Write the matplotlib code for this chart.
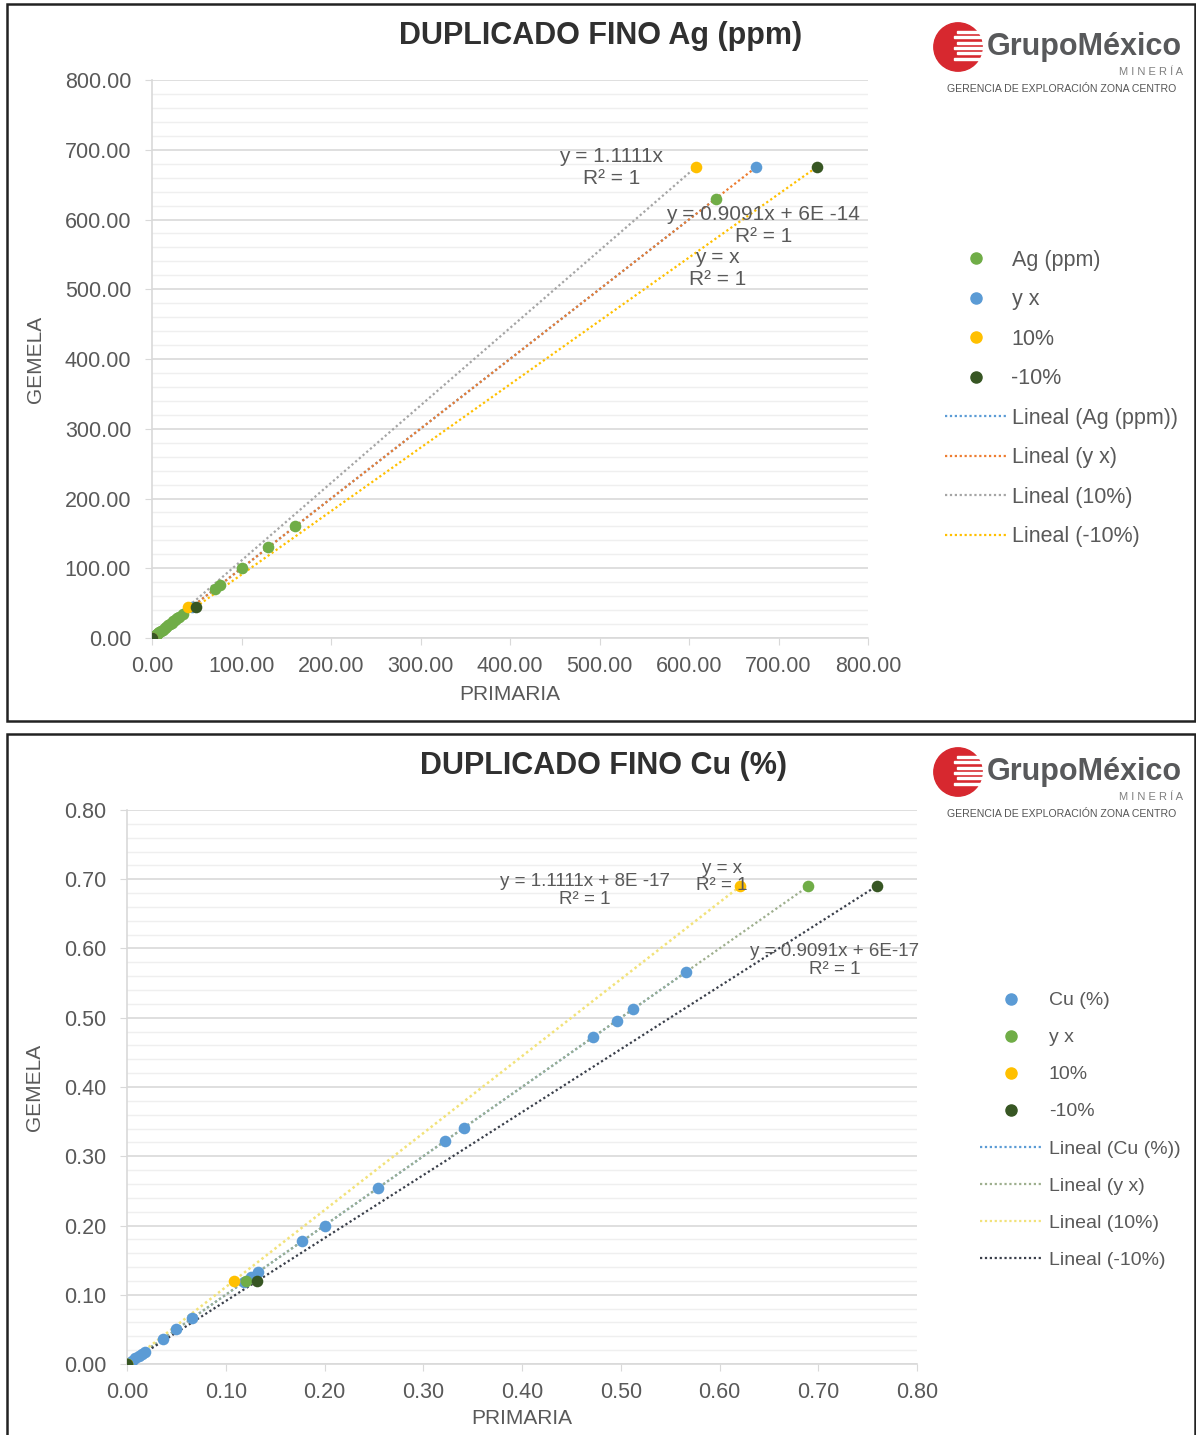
import matplotlib
matplotlib.use("Agg")
import matplotlib.pyplot as plt
from matplotlib.lines import Line2D
from matplotlib.patches import Rectangle, Circle
import numpy as np

plt.rcParams['font.family'] = ['Liberation Sans', 'DejaVu Sans']

W, H = 1196, 1435

# ---------------- data: Ag (ppm) ----------------
ag_x = [0.5, 1, 1.5, 2, 3, 4, 5, 6, 7, 8, 10, 12, 14, 16, 18, 20, 22, 24, 26, 28, 30, 35,
        70, 76, 100, 130, 160, 630]
ag_y = [0.5, 1, 1.5, 2, 3, 4, 5, 6, 7, 8, 10, 12, 14, 16, 18, 20, 22, 24, 26, 28, 30, 35,
        70, 76, 100, 130, 160, 630]
ag_yx_x = [0, 45, 675]
ag_yx_y = [0, 45, 675]
ag_p10_x = [0, 40.5, 607.5]
ag_p10_y = [0, 45, 675]
ag_m10_x = [0, 49.5, 742.5]
ag_m10_y = [0, 45, 675]

# ---------------- data: Cu (%) ----------------
cu_x = [0.002, 0.005, 0.008, 0.012, 0.015, 0.018, 0.036, 0.05, 0.066, 0.118, 0.126, 0.133,
        0.177, 0.2, 0.254, 0.322, 0.341, 0.472, 0.496, 0.512, 0.566]
cu_y = [0.002, 0.005, 0.008, 0.012, 0.015, 0.018, 0.036, 0.05, 0.066, 0.118, 0.126, 0.133,
        0.177, 0.2, 0.254, 0.322, 0.341, 0.472, 0.496, 0.512, 0.566]
cu_yx_x = [0, 0.12, 0.69]
cu_yx_y = [0, 0.12, 0.69]
cu_p10_x = [0, 0.108, 0.621]
cu_p10_y = [0, 0.12, 0.69]
cu_m10_x = [0, 0.132, 0.759]
cu_m10_y = [0, 0.12, 0.69]

ag_labels = ["Ag (ppm)", "y x", "10%", "-10%",
             "Lineal (Ag (ppm))", "Lineal (y x)", "Lineal (10%)", "Lineal (-10%)"]
cu_labels = ["Cu (%)", "y x", "10%", "-10%",
             "Lineal (Cu (%))", "Lineal (y x)", "Lineal (10%)", "Lineal (-10%)"]

GREEN = "#70AD47"
BLUE = "#5B9BD5"
YELLOW = "#FFC000"
DKGREEN = "#375623"
TXT = "#595959"


def px(x0, y0, x1, y1):
    # pixel box (top-left origin) -> figure fraction rect
    return [x0 / W, 1 - y1 / H, (x1 - x0) / W, (y1 - y0) / H]


def trend(ax, xs, ys, color, lw=1.6):
    m, b = np.polyfit(xs, ys, 1)
    xx = np.array([0, max(xs)])
    ax.plot(xx, m * xx + b, linestyle=(0, (1, 1.2)), color=color, lw=lw, zorder=2)


def style_axes(ax, xmax, ymax, major, minor, fmt):
    ax.set_xlim(0, xmax)
    ax.set_ylim(0, ymax)
    ax.set_xticks(np.arange(0, xmax + major / 2, major))
    ax.set_yticks(np.arange(0, ymax + major / 2, major))
    ax.set_yticks(np.arange(0, ymax + minor / 2, minor), minor=True)
    ax.set_xticklabels([fmt.format(v) for v in ax.get_xticks()])
    ax.set_yticklabels([fmt.format(v) for v in ax.get_yticks()])
    ax.grid(True, which='major', axis='y', color='#D9D9D9', lw=1.2, zorder=0)
    ax.grid(True, which='minor', axis='y', color='#EFEFEF', lw=1.0, zorder=0)
    ax.set_axisbelow(True)
    for s in ['top', 'right']:
        ax.spines[s].set_visible(False)
    ax.spines['left'].set_color('#D9D9D9')
    ax.spines['bottom'].set_color('#D9D9D9')
    ax.spines['left'].set_linewidth(1.2)
    ax.spines['bottom'].set_linewidth(1.2)
    ax.tick_params(which='major', length=5, color='#D9D9D9', labelsize=15.5,
                   labelcolor=TXT)
    ax.tick_params(which='minor', length=0)
    ax.tick_params(axis='x', pad=8)
    ax.tick_params(axis='y', pad=10)


def logo(fig, top):
    lax = fig.add_axes(px(930, top - 28, 960 + 26, top + 28))
    lax.set_xlim(-1.1, 1.1)
    lax.set_ylim(-1.1, 1.1)
    lax.set_aspect('equal')
    lax.axis('off')
    lax.add_patch(Circle((0, 0), 0.95, color="#D7282F"))
    for i, yy in enumerate(np.linspace(-0.5, 0.55, 6)):
        lax.add_patch(Rectangle((-0.15 + 0.1 * (i % 2), yy), 1.2, 0.08, color='white'))
    fig.text(987 / W, 1 - top / H, "GrupoMéxico", fontsize=22, color="#58595B",
             fontweight='bold', va='center', ha='left')
    fig.text(1183 / W, 1 - (top + 25) / H, "M I N E R Í A", fontsize=8,
             color="#7F7F7F", va='center', ha='right')
    fig.text(1176 / W, 1 - (top + 42) / H, "GERENCIA DE EXPLORACIÓN ZONA CENTRO",
             fontsize=7.6, color="#555555", va='center', ha='right')


fig = plt.figure(figsize=(W / 100, H / 100), dpi=100)

# panel frames
for (y0, y1) in [(4, 721), (734, 1436)]:
    fig.patches.append(Rectangle((7 / W, 1 - y1 / H), (1195 - 7) / W, (y1 - y0) / H,
                                 transform=fig.transFigure, fill=False,
                                 edgecolor='#222222', lw=1.8))

# ---------------- top chart ----------------
ax1 = fig.add_axes(px(152, 80, 868, 638))
style_axes(ax1, 800, 800, 100, 20, "{:.2f}")
trend(ax1, ag_x, ag_y, BLUE)
trend(ax1, ag_yx_x, ag_yx_y, "#ED7D31")
trend(ax1, ag_p10_x, ag_p10_y, "#A5A5A5")
trend(ax1, ag_m10_x, ag_m10_y, YELLOW)
ax1.scatter(ag_x, ag_y, s=70, color=GREEN, zorder=3, linewidths=0)
ax1.scatter(ag_yx_x, ag_yx_y, s=70, color=BLUE, zorder=3, linewidths=0)
ax1.scatter(ag_p10_x, ag_p10_y, s=70, color=YELLOW, zorder=3, linewidths=0)
ax1.scatter(ag_m10_x, ag_m10_y, s=70, color=DKGREEN, zorder=3, linewidths=0)
ax1.text(513, 674, "y = 1.1111x\nR² = 1", ha='center', va='center', fontsize=15,
         color=TXT, multialignment='center', linespacing=1.2)
ax1.text(683, 592, "y = 0.9091x + 6E -14\nR² = 1", ha='center', va='center',
         fontsize=15, color=TXT, multialignment='center', linespacing=1.2)
ax1.text(632, 530, "y = x\nR² = 1", ha='center', va='center', fontsize=15,
         color=TXT, multialignment='center', linespacing=1.2)
ax1.set_xlabel("PRIMARIA", fontsize=15, color=TXT, labelpad=6)
ax1.set_ylabel("GEMELA", fontsize=15, color=TXT, labelpad=14)
fig.text(601 / W, 1 - 36 / H, "DUPLICADO FINO Ag (ppm)", fontsize=22,
         fontweight='bold', color="#303030", ha='center', va='center')

h1 = [Line2D([], [], marker='o', ls='none', color=c, markersize=8)
      for c in [GREEN, BLUE, YELLOW, DKGREEN]]
h1 += [Line2D([], [], ls=(0, (1, 1.2)), color=c, lw=1.6)
       for c in [BLUE, "#ED7D31", "#A5A5A5", YELLOW]]
fig.legend(h1, ag_labels, loc='upper left', bbox_to_anchor=(934 / W, 1 - 239 / H),
           frameon=False, fontsize=15.5, labelspacing=0.86, handlelength=2.9,
           handletextpad=0.2, borderpad=0, labelcolor=TXT)
logo(fig, 47)

# ---------------- bottom chart ----------------
ax2 = fig.add_axes(px(127, 810, 917, 1364))
style_axes(ax2, 0.8, 0.8, 0.1, 0.02, "{:.2f}")
LYX = "#9EAF8E"
trend(ax2, cu_x, cu_y, BLUE)
trend(ax2, cu_yx_x, cu_yx_y, LYX)
trend(ax2, cu_p10_x, cu_p10_y, "#F2E27A", lw=1.8)
trend(ax2, cu_m10_x, cu_m10_y, "#3A3F4A")
ax2.scatter(cu_x, cu_y, s=70, color=BLUE, zorder=3, linewidths=0)
ax2.scatter(cu_yx_x, cu_yx_y, s=70, color=GREEN, zorder=3, linewidths=0)
ax2.scatter(cu_p10_x, cu_p10_y, s=70, color=YELLOW, zorder=3, linewidths=0)
ax2.scatter(cu_m10_x, cu_m10_y, s=70, color=DKGREEN, zorder=3, linewidths=0)
ax2.text(0.464, 0.684, "y = 1.1111x + 8E -17\nR² = 1", ha='center', va='center',
         fontsize=13.5, color=TXT, multialignment='center', linespacing=1.05)
ax2.text(0.6025, 0.703, "y = x\nR² = 1", ha='center', va='center', fontsize=13.5,
         color=TXT, multialignment='center', linespacing=1.05)
ax2.text(0.717, 0.583, "y = 0.9091x + 6E-17\nR² = 1", ha='center', va='center',
         fontsize=13.5, color=TXT, multialignment='center', linespacing=1.05)
ax2.set_xlabel("PRIMARIA", fontsize=15, color=TXT, labelpad=4)
ax2.set_ylabel("GEMELA", fontsize=15, color=TXT, labelpad=14)
fig.text(603 / W, 1 - 766 / H, "DUPLICADO FINO Cu (%)", fontsize=22,
         fontweight='bold', color="#303030", ha='center', va='center')

h2 = [Line2D([], [], marker='o', ls='none', color=c, markersize=8)
      for c in [BLUE, GREEN, YELLOW, DKGREEN]]
h2 += [Line2D([], [], ls=(0, (1, 1.2)), color=c, lw=1.6)
       for c in [BLUE, LYX, "#F2E27A", "#3A3F4A"]]
fig.legend(h2, cu_labels, loc='upper left', bbox_to_anchor=(970 / W, 1 - 982 / H),
           frameon=False, fontsize=14, labelspacing=1.0, handlelength=3.2,
           handletextpad=0.35, borderpad=0, labelcolor=TXT)
logo(fig, 772)

fig.savefig("out.png", dpi=100)
